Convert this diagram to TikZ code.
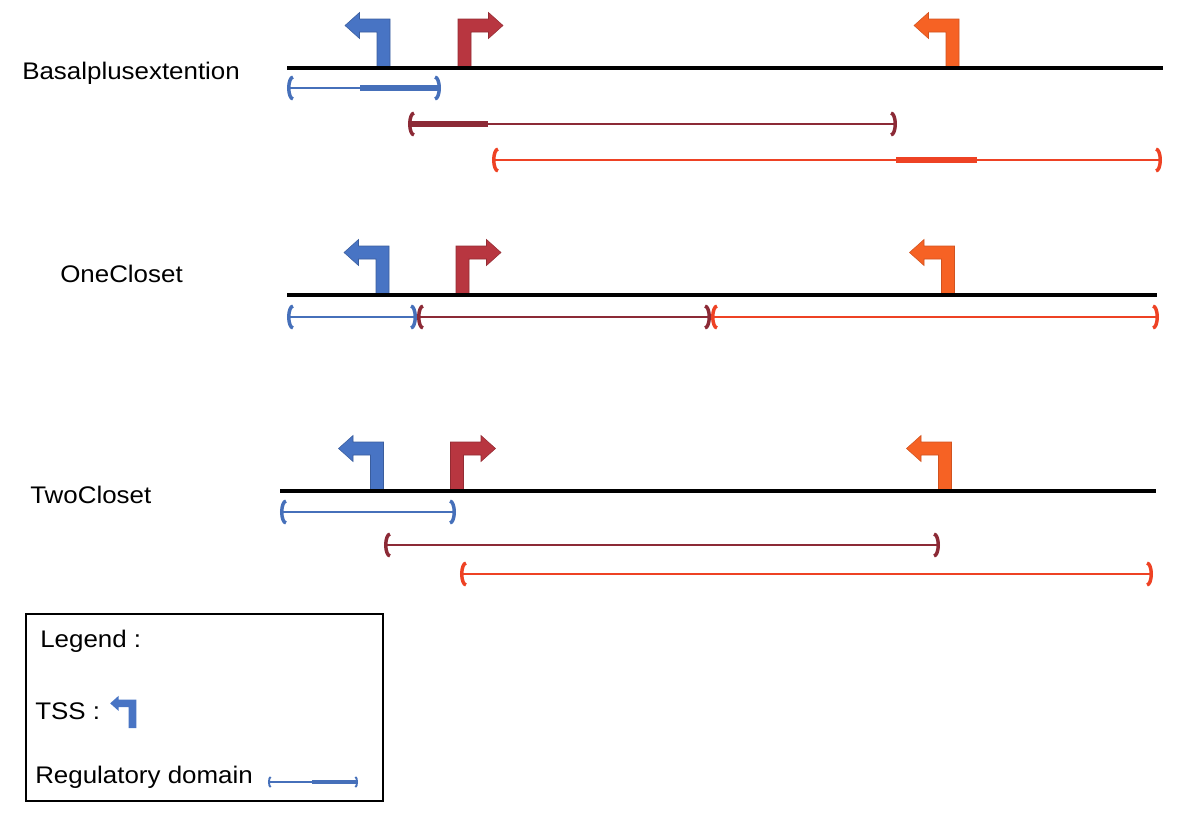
\documentclass[tikz,border=0pt]{standalone}
\usepackage{fontspec}
\setmainfont{Liberation Sans}
\newfontfamily\labfont[FakeStretch=1.08]{Liberation Sans}
\usetikzlibrary{arrows.meta}
\definecolor{tssblue}{RGB}{72,116,196}
\definecolor{tssred}{RGB}{184,54,64}
\definecolor{tssorange}{RGB}{246,98,36}
\definecolor{domblue}{RGB}{70,112,186}
\definecolor{domred}{RGB}{140,42,54}
\definecolor{domorange}{RGB}{238,66,36}
\tikzset{
  dna/.style={line width=2.3pt, black},
  dom/.style={line width=1.5pt, {Arc Barb[width=19pt,length=4.5pt,line width=2.6pt]}-{Arc Barb[width=19pt,length=4.5pt,line width=2.6pt]}},
  domsmall/.style={line width=1pt, {Arc Barb[width=9pt,length=2pt,line width=1.4pt]}-{Arc Barb[width=9pt,length=2pt,line width=1.4pt]}},
  core/.style={line width=5pt},
  lab/.style={anchor=west, font=\labfont\fontsize{18}{20}\selectfont, inner sep=0pt},
  tssL/.pic={\path[pic actions] (-6.5,0) -- (6.5,0) -- (6.5,-49) -- (-24,-49) -- (-24,-55.5) -- (-38.5,-42.5) -- (-24,-29.5) -- (-24,-36) -- (-6.5,-36) -- cycle;},
  tssR/.pic={\path[pic actions] (6.5,0) -- (-6.5,0) -- (-6.5,-49) -- (24,-49) -- (24,-55.5) -- (38.5,-42.5) -- (24,-29.5) -- (24,-36) -- (6.5,-36) -- cycle;}
}
\begin{document}
\begin{tikzpicture}[x=0.75pt,y=-0.75pt]
\useasboundingbox (0,0) rectangle (1186,814);

% ---------- Row 1 : Basalplusextention ----------
\node[lab] (l1) at (22,73) {Basalplusextention};
\pic[fill=tssblue, draw=tssblue!80!black, line width=0.4pt] at (383.5,68) {tssL};
\pic[fill=tssred, draw=tssred!80!black, line width=0.4pt] at (464.5,68) {tssR};
\pic[fill=tssorange, draw=tssorange!85!black, line width=0.4pt] at (952.5,68) {tssL};
\coordinate (a1) at (287,68); \coordinate (b1) at (1163,68);
\draw[dna] (a1) -- (b1);

\draw[dom, domblue] (287,88) -- (441,88);
\draw[core, domblue] (360,88) -- (440,88);
\draw[dom, domred] (408,124) -- (897,124);
\draw[core, domred] (409,124) -- (488,124);
\draw[dom, domorange] (492,160) -- (1162,160);
\draw[core, domorange] (896,160) -- (977,160);

% ---------- Row 2 : OneCloset ----------
\node[lab] (l2) at (60,274) {OneCloset};
\pic[fill=tssblue, draw=tssblue!80!black, line width=0.4pt] at (382.5,295) {tssL};
\pic[fill=tssred, draw=tssred!80!black, line width=0.4pt] at (462.5,295) {tssR};
\pic[fill=tssorange, draw=tssorange!85!black, line width=0.4pt] at (948,295) {tssL};
\coordinate (a2) at (287,295); \coordinate (b2) at (1157,295);
\draw[dna] (a2) -- (b2);

\draw[dom, domblue] (287,317) -- (417,317);
\draw[dom, domred] (417,317) -- (711,317);
\draw[dom, domorange] (711,317) -- (1159,317);

% ---------- Row 3 : TwoCloset ----------
\node[lab] (l3) at (30,495) {TwoCloset};
\pic[fill=tssblue, draw=tssblue!80!black, line width=0.4pt] at (377,491) {tssL};
\pic[fill=tssred, draw=tssred!80!black, line width=0.4pt] at (457,491) {tssR};
\pic[fill=tssorange, draw=tssorange!85!black, line width=0.4pt] at (945,491) {tssL};
\coordinate (a3) at (280,491); \coordinate (b3) at (1156,491);
\draw[dna] (a3) -- (b3);

\draw[dom, domblue] (280,512) -- (456,512);
\draw[dom, domred] (384,545) -- (940,545);
\draw[dom, domorange] (460,574) -- (1153,574);

% ---------- Legend ----------
\draw[line width=2.2pt] (26,614) rectangle (383,801);
\node[lab] (lg) at (40,641) {Legend :};
\node[lab] (lt) at (35,711) {TSS :};
\pic[fill=tssblue, scale=0.58] at (132.5,728) {tssL};
\node[lab] (lr) at (35,777) {Regulatory domain};
\draw[domsmall, domblue] (268,782) -- (358,782);
\draw[line width=3pt, domblue] (312,782) -- (357,782);
\end{tikzpicture}
\end{document}
